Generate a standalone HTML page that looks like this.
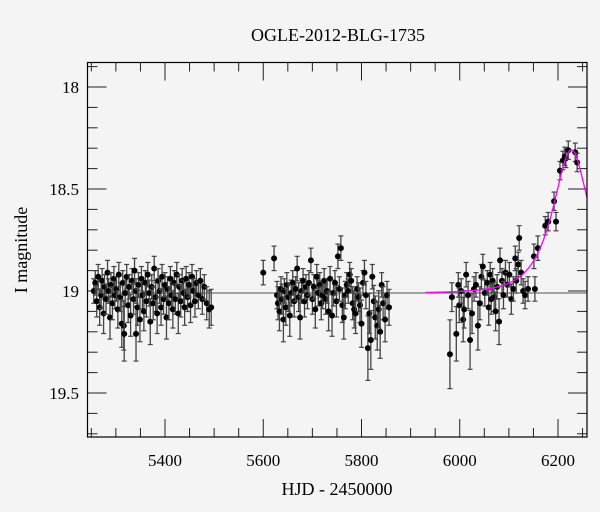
<!DOCTYPE html>
<html><head><meta charset="utf-8">
<style>
html,body{margin:0;padding:0;background:#f4f4f4;}
svg{display:block;font-family:"Liberation Serif","DejaVu Serif",serif;}
</style></head>
<body>
<svg id="chart" width="600" height="512" viewBox="0 0 600 512" xmlns="http://www.w3.org/2000/svg">
<rect width="600" height="512" fill="#f4f4f4"/>
<text x="338" y="41" font-size="18" text-anchor="middle" fill="#000">OGLE-2012-BLG-1735</text>
<text x="337" y="495" font-size="18" text-anchor="middle" fill="#000">HJD - 2450000</text>
<text x="0" y="0" font-size="18" text-anchor="middle" fill="#000" transform="translate(27,250) rotate(-90)">I magnitude</text>
<g id="ticks"></g>
<g id="labels"></g>
<g id="baseline"></g>
<g id="points"></g>
<g id="model"></g>
<rect x="87.5" y="62.5" width="499.5" height="374.5" fill="none" stroke="#000" stroke-width="1.2"/>
</svg>
<script>
const xTicks = [5400, 5600, 5800, 6000, 6200];
const yTicks = [18, 18.5, 19, 19.5];
const xTickLabels = ["5400", "5600", "5800", "6000", "6200"];
const yTickLabels = ["18", "18.5", "19", "19.5"];
const times1 = [5255,5258,5261,5264,5267,5270,5272,5275,5277,5280,5283,5285,5288,5290,5293,5296,5298,5301,5304,5306,5309,5312,5314,5316,5317,5319,5322,5325,5327,5330,5333,5336,5338,5341,5341,5344,5346,5349,5352,5354,5357,5360,5362,5365,5368,5370,5373,5376,5378,5381,5384,5386,5389,5392,5394,5397,5400,5403,5405,5408,5411,5413,5416,5419,5421,5424,5427,5429,5432,5435,5438,5440,5443,5446,5449,5452,5455,5458,5461,5464,5468,5472,5476,5480,5485,5490,5494];
const mags1 = [19.00,18.96,19.05,18.93,19.08,19.02,18.95,19.11,18.98,19.04,18.91,19.00,19.13,18.97,19.06,18.94,19.02,18.99,19.09,18.92,19.03,19.16,18.96,19.17,19.21,19.01,18.93,19.07,18.98,19.12,18.95,19.04,18.90,19.00,19.21,19.08,18.97,19.14,18.94,19.02,19.10,18.96,19.05,18.92,19.01,19.15,18.98,19.06,18.89,19.03,19.11,18.95,19.00,19.08,18.93,19.04,18.97,19.13,18.99,19.06,18.94,19.02,19.09,18.96,19.04,18.92,19.11,18.98,19.05,18.95,19.01,19.08,18.94,19.03,18.97,19.07,18.93,19.00,19.05,18.96,19.02,18.95,19.04,18.98,19.06,19.09,19.08];
const times2 = [5600,5622,5628,5630,5633,5636,5638,5641,5643,5646,5648,5651,5654,5657,5660,5663,5666,5669,5672,5675,5678,5681,5684,5687,5690,5693,5697,5700,5703,5706,5709,5712,5715,5718,5721,5724,5727,5730,5733,5736,5740,5743,5746,5749,5752,5755,5758,5761,5764,5767,5770,5773,5776,5779,5782,5785,5788,5791,5794,5797,5800,5803,5806,5809,5813,5816,5819,5822,5825,5828,5832,5835,5838,5841,5844,5848,5852,5856];
const mags2 = [18.91,18.84,19.02,19.06,19.10,18.99,19.04,19.14,19.00,19.08,18.97,19.03,19.12,19.01,18.96,19.05,18.99,18.89,19.03,19.13,19.00,18.95,19.05,18.98,19.02,18.96,18.85,19.04,18.98,19.09,18.93,19.01,18.97,19.06,19.02,18.95,19.04,19.00,19.10,18.94,19.12,19.01,18.96,19.05,18.83,18.99,18.79,19.07,19.13,19.02,18.97,19.00,18.92,18.95,19.06,19.09,19.11,18.99,19.03,19.07,19.16,18.96,18.91,19.02,19.28,19.11,19.24,18.93,19.05,19.13,19.17,19.09,19.20,18.97,19.06,19.14,19.02,19.08];
const times3 = [5980,5984,5993,5997,5999,6003,6007,6009,6013,6017,6021,6025,6029,6033,6037,6041,6044,6047,6051,6056,6059,6062,6064,6067,6070,6073,6076,6080,6082,6086,6089,6093,6097,6101,6105,6109,6113,6115,6119,6121,6125,6129,6133,6139,6151,6153,6159,6174,6180,6192,6196,6204,6210,6214,6216,6221,6235,6239];
const mags3 = [19.31,19.03,19.21,18.97,19.07,19.00,19.14,19.09,18.92,19.02,19.24,19.11,18.99,18.97,19.17,19.06,18.93,18.88,19.01,18.96,19.08,18.92,19.04,18.95,19.03,19.10,18.98,19.15,18.85,18.95,19.02,18.91,18.97,18.92,19.04,18.99,18.84,18.95,18.87,18.74,18.91,19.00,19.02,18.99,18.83,18.99,18.79,18.68,18.66,18.56,18.66,18.41,18.36,18.34,18.35,18.31,18.32,18.37];
const baselineMag = 19.01, t0 = 6227, u0 = 0.59, tE = 60;

const NS = "http://www.w3.org/2000/svg";
const X0 = 165, XPD = 0.49125, Y0 = 291, YPM = 204;
function xScale(t){ return X0 + (t - 5400) * XPD; }
function yScale(m){ return Y0 + (m - 19) * YPM; }
function mk(tag, attrs, parent){ const e = document.createElementNS(NS, tag); for (const k in attrs) e.setAttribute(k, attrs[k]); parent.appendChild(e); return e; }

const ticksG = document.getElementById('ticks');
const labelsG = document.getElementById('labels');
const L = 87.5, R = 587, T = 62.5, B = 437;
for (let t = 5250; t <= 6250; t += 50) {
  const x = xScale(t), major = (t % 200 === 0) ? 18 : 9;
  const a = mk('line', {x1:x, x2:x, y1:B, y2:B-major, stroke:'#222', 'stroke-width':1}, ticksG);
  
  
  const b = mk('line', {x1:x, x2:x, y1:T, y2:T+major, stroke:'#222', 'stroke-width':1}, ticksG);
  
  
}
for (let i = 0; i <= 18; i++) {
  const m = 17.9 + i * 0.1; const y = yScale(m);
  if (y < T || y > B) continue;
  const major = (Math.abs(m*2 - Math.round(m*2)) < 1e-6) ? 19 : 10;
  const a = mk('line', {x1:L, x2:L+major, y1:y, y2:y, stroke:'#222', 'stroke-width':1}, ticksG);
  
  
  const b = mk('line', {x1:R, x2:R-major, y1:y, y2:y, stroke:'#222', 'stroke-width':1}, ticksG);
  
  
}
xTicks.forEach((t, i) => {
  const e = mk('text', {x:xScale(t), y:466, 'font-size':17, 'text-anchor':'middle', fill:'#000'}, labelsG);
  e.textContent = xTickLabels[i];
  
  
});
yTicks.forEach((m, i) => {
  const e = mk('text', {x:79, y:yScale(m)+6, 'font-size':17, 'text-anchor':'end', fill:'#000'}, labelsG);
  e.textContent = yTickLabels[i];
  
  
});

const bl = mk('line', {x1:xScale(5255), x2:R, y1:yScale(baselineMag), y2:yScale(baselineMag), stroke:'#555', 'stroke-width':1}, document.getElementById('baseline'));



const ptsG = document.getElementById('points');
function drawSeries(ts, ms){
  ts.forEach((t, i) => {
    const m = ms[i]; const x = xScale(t), y = yScale(m);
    const err = m < 18.7 ? 0.045 : 0.06 + Math.max(0, m - 19) * 0.35; // photometric error model
    const y1 = yScale(m - err), y2 = yScale(m + err);
    const g = mk('g', {}, ptsG);
    
    
    mk('line', {x1:x, x2:x, y1:y1, y2:y2, stroke:'#444', 'stroke-width':1.3}, g);
    mk('line', {x1:x-2.5, x2:x+2.5, y1:y1, y2:y1, stroke:'#444', 'stroke-width':1.2}, g);
    mk('line', {x1:x-2.5, x2:x+2.5, y1:y2, y2:y2, stroke:'#444', 'stroke-width':1.2}, g);
    mk('circle', {cx:x, cy:y, r:3, fill:'#000'}, g);
  });
}
drawSeries(times1, mags1);
drawSeries(times2, mags2);
drawSeries(times3, mags3);

let d = '';
for (let t = 5930; t <= 6259; t += 1) {
  const tau = (t - t0) / tE, u = Math.sqrt(u0*u0 + tau*tau);
  const A = (u*u + 2) / (u * Math.sqrt(u*u + 4));
  const m = baselineMag - 2.5 * Math.log10(A);
  d += (d ? 'L' : 'M') + xScale(t).toFixed(2) + ',' + yScale(m).toFixed(2);
}
const mp = mk('path', {d:d, fill:'none', stroke:'#ff00ff', 'stroke-width':1.3}, document.getElementById('model'));


</script>
</body></html>
